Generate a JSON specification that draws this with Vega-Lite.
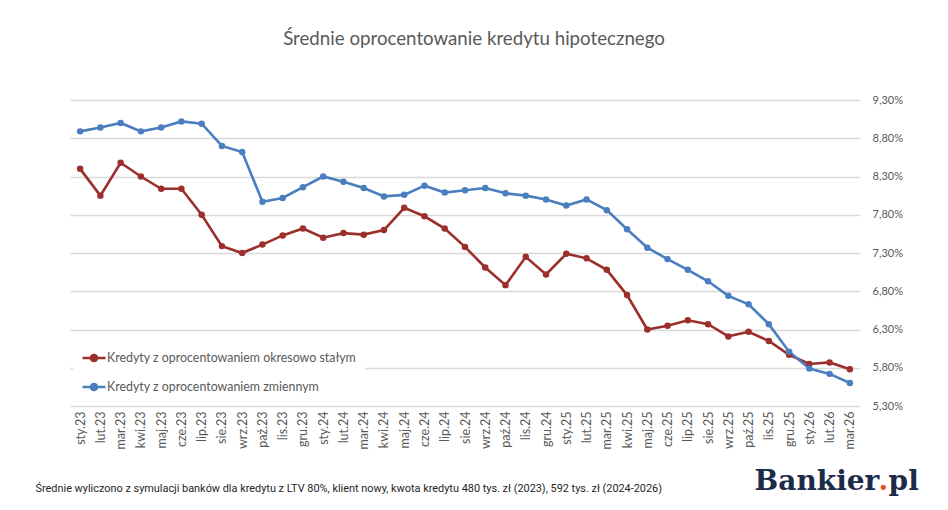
{
  "$schema": "https://vega.github.io/schema/vega-lite/v6.json",
  "autosize": {"type": "none"},
  "padding": {"left": 70, "top": 100, "right": 88, "bottom": 104},
  "width": 790,
  "height": 306,
  "background": "white",
  "title": {
    "text": "Średnie oprocentowanie kredytu hipotecznego",
    "font": "Lato",
    "fontSize": 18.7,
    "fontWeight": "normal",
    "color": "#595959",
    "anchor": "middle",
    "dx": 9,
    "offset": 45
  },
  "data": {
    "values": [
      {"m": "sty.23", "staly": 8.40, "zmienny": 8.89},
      {"m": "lut.23", "staly": 8.05, "zmienny": 8.94},
      {"m": "mar.23", "staly": 8.48, "zmienny": 9.00},
      {"m": "kwi.23", "staly": 8.30, "zmienny": 8.89},
      {"m": "maj.23", "staly": 8.14, "zmienny": 8.94},
      {"m": "cze.23", "staly": 8.14, "zmienny": 9.02},
      {"m": "lip.23", "staly": 7.80, "zmienny": 8.99},
      {"m": "sie.23", "staly": 7.39, "zmienny": 8.70},
      {"m": "wrz.23", "staly": 7.30, "zmienny": 8.62},
      {"m": "paź.23", "staly": 7.41, "zmienny": 7.97},
      {"m": "lis.23", "staly": 7.53, "zmienny": 8.02},
      {"m": "gru.23", "staly": 7.62, "zmienny": 8.16},
      {"m": "sty.24", "staly": 7.50, "zmienny": 8.30},
      {"m": "lut.24", "staly": 7.56, "zmienny": 8.23},
      {"m": "mar.24", "staly": 7.54, "zmienny": 8.15},
      {"m": "kwi.24", "staly": 7.60, "zmienny": 8.04},
      {"m": "maj.24", "staly": 7.89, "zmienny": 8.06},
      {"m": "cze.24", "staly": 7.78, "zmienny": 8.18},
      {"m": "lip.24", "staly": 7.62, "zmienny": 8.09},
      {"m": "sie.24", "staly": 7.38, "zmienny": 8.12},
      {"m": "wrz.24", "staly": 7.11, "zmienny": 8.15},
      {"m": "paź.24", "staly": 6.88, "zmienny": 8.08},
      {"m": "lis.24", "staly": 7.25, "zmienny": 8.05},
      {"m": "gru.24", "staly": 7.02, "zmienny": 8.00},
      {"m": "sty.25", "staly": 7.29, "zmienny": 7.92},
      {"m": "lut.25", "staly": 7.23, "zmienny": 8.00},
      {"m": "mar.25", "staly": 7.08, "zmienny": 7.86},
      {"m": "kwi.25", "staly": 6.75, "zmienny": 7.61},
      {"m": "maj.25", "staly": 6.30, "zmienny": 7.37},
      {"m": "cze.25", "staly": 6.35, "zmienny": 7.22},
      {"m": "lip.25", "staly": 6.42, "zmienny": 7.08},
      {"m": "sie.25", "staly": 6.37, "zmienny": 6.93},
      {"m": "wrz.25", "staly": 6.21, "zmienny": 6.74},
      {"m": "paź.25", "staly": 6.27, "zmienny": 6.63},
      {"m": "lis.25", "staly": 6.15, "zmienny": 6.37},
      {"m": "gru.25", "staly": 5.97, "zmienny": 6.01},
      {"m": "sty.26", "staly": 5.85, "zmienny": 5.79},
      {"m": "lut.26", "staly": 5.87, "zmienny": 5.72},
      {"m": "mar.26", "staly": 5.78, "zmienny": 5.60}
    ]
  },
  "layer": [
    {
      "transform": [{"fold": ["staly", "zmienny"], "as": ["seria", "v"]}],
      "mark": {"type": "line", "strokeWidth": 2.6, "point": {"filled": true, "size": 42, "opacity": 1}},
      "encoding": {
        "x": {
          "field": "m",
          "type": "ordinal",
          "sort": null,
          "scale": {"type": "point", "padding": 0.5},
          "axis": {
            "title": "Średnie wyliczono z symulacji banków dla kredytu z LTV 80%, klient nowy, kwota kredytu 480 tys. zł (2023), 592 tys. zł (2024-2026)",
            "titleFont": "Roboto",
            "titleFontSize": 10.9,
            "titleFontWeight": "normal",
            "titleColor": "#262626",
            "titleAnchor": "start",
            "titleAlign": "left",
            "titleBaseline": "middle",
            "titleX": -35,
            "titleY": 82,
            "labelAngle": -90,
            "labelAlign": "right",
            "labelBaseline": "middle",
            "labelFont": "Lato",
            "labelFontSize": 12.5,
            "labelColor": "#595959",
            "labelPadding": 5,
            "ticks": false,
            "domain": false,
            "grid": false
          }
        },
        "y": {
          "field": "v",
          "type": "quantitative",
          "scale": {"domain": [5.3, 9.3], "nice": false, "zero": false},
          "axis": {
            "orient": "right",
            "title": null,
            "values": [5.3, 5.8, 6.3, 6.8, 7.3, 7.8, 8.3, 8.8, 9.3],
            "tickCount": 12,
            "labelOverlap": false,
            "labelExpr": "replace(format(datum.value, '.2f'), '.', ',') + '%'",
            "labelFont": "Lato",
            "labelFontSize": 11,
            "labelColor": "#595959",
            "labelPadding": 12,
            "ticks": false,
            "domain": false,
            "grid": true,
            "gridColor": "#d9d9d9",
            "gridWidth": 1.3
          }
        },
        "color": {
          "field": "seria",
          "type": "nominal",
          "scale": {"domain": ["staly", "zmienny"], "range": ["#9b2f2c", "#4a7ebf"]},
          "legend": {
            "title": null,
            "orient": "none",
            "legendX": 3,
            "legendY": 237,
            "fillColor": "white",
            "padding": 8,
            "rowPadding": 7,
            "symbolType": "M-1,0L1,0M-0.27,0A0.27,0.27,0,1,0,0.27,0A0.27,0.27,0,1,0,-0.27,0Z",
            "symbolSize": 529,
            "symbolStrokeWidth": 2.5,
            "labelFont": "Lato",
            "labelFontSize": 12.4,
            "labelColor": "#595959",
            "labelOffset": 0,
            "labelLimit": 400,
            "labelExpr": "datum.value == 'staly' ? 'Kredyty z oprocentowaniem okresowo stałym' : 'Kredyty z oprocentowaniem zmiennym'",
            "encode": {
              "symbols": {
                "update": {
                  "fill": {"scale": "color", "field": "value"},
                  "stroke": {"scale": "color", "field": "value"}
                }
              }
            }
          }
        }
      }
    },
    {
      "data": {"values": [{"logo": "Bankier"}]},
      "mark": {"type": "text", "font": "DejaVu Serif", "fontSize": 28, "fontWeight": "bold", "align": "left", "baseline": "alphabetic", "color": "#1c2b4a", "dx": 6},
      "encoding": {
        "x": {"datum": "paź.25"},
        "y": {"datum": 4.2},
        "text": {"field": "logo"}
      }
    },
    {
      "data": {"values": [{"logo": "."}]},
      "mark": {"type": "text", "font": "DejaVu Serif", "fontSize": 28, "fontWeight": "bold", "align": "left", "baseline": "alphabetic", "color": "#e8541e", "dx": 130},
      "encoding": {
        "x": {"datum": "paź.25"},
        "y": {"datum": 4.2},
        "text": {"field": "logo"}
      }
    },
    {
      "data": {"values": [{"logo": "pl"}]},
      "mark": {"type": "text", "font": "DejaVu Serif", "fontSize": 28, "fontWeight": "bold", "align": "left", "baseline": "alphabetic", "color": "#1c2b4a", "dx": 140},
      "encoding": {
        "x": {"datum": "paź.25"},
        "y": {"datum": 4.2},
        "text": {"field": "logo"}
      }
    }
  ],
  "config": {"view": {"stroke": null}}
}
